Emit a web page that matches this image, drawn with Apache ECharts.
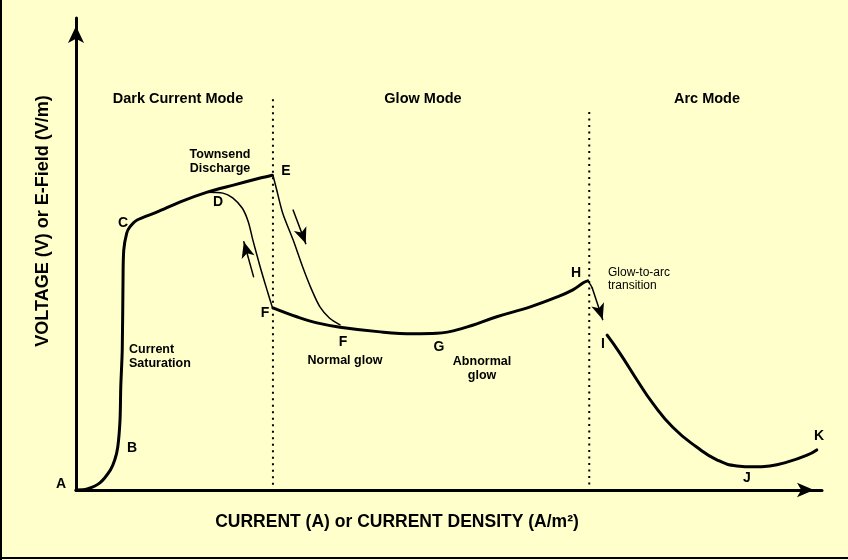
<!DOCTYPE html>
<html><head><meta charset="utf-8">
<script src="https://cdn.jsdelivr.net/npm/echarts@6/dist/echarts.min.js"></script>
<style>html,body{margin:0;padding:0;background:#FFFFCC}#c{width:848px;height:560px}</style>
</head><body><div id="c"></div>
<script>
// Data in arbitrary units: current (0-100) vs voltage (0-100)
const darkCurrentCurve = [[0,0],[1.5,0.2],[3.2,1.5],[4.6,4.2],[5.2,6.4],[5.6,9.1],[5.9,14.8],[6.0,21.8],[6.2,29.7],[6.3,43.9],[6.4,50.8],[6.8,54.4],[7.2,55.7],[8.2,57.2],[10.9,58.9],[13.9,61.0],[17.6,63.1],[21.1,64.6],[24.7,66.1],[26.3,66.7]];
const breakdownEF = [[26.4,66.7],[26.9,63.6],[27.7,58.7],[29.1,53.0],[30.4,47.2],[31.6,42.4],[32.7,38.8],[34.0,36.4],[35.4,35.0]];
const returnDF = [[17.6,63.1],[19.7,62.9],[21.0,61.9],[22.3,59.7],[23.1,56.8],[23.7,53.0],[24.7,47.2],[25.6,42.4],[26.3,38.8]];
const glowCurve = [[26.4,38.6],[29.6,36.7],[32.3,35.4],[35.4,34.5],[40.8,33.5],[45.2,33.1],[48.4,33.2],[51.9,34.3],[56.4,36.7],[60.9,38.8],[64.5,40.9],[66.6,42.4],[68.0,43.9],[68.6,44.3]];
const transitionStart = [[68.6,44.3],[69.0,43.4],[69.2,42.8]];
const arcCurve = [[71.2,32.8],[72.9,29.0],[75.2,23.3],[77.3,18.4],[80.0,13.3],[83.2,9.1],[85.9,6.4],[88.6,5.1],[90.8,4.9],[93.0,5.1],[95.3,5.9],[98.0,7.4],[99.3,8.5]];
const arrowDown = [[29.1,59.3],[30.8,52.2]];
const arrowUp = [[23.8,45.2],[22.5,52.6]];
const arrowArc = [[69.2,42.8],[70.6,36.1]];
const modeBoundary1 = [[26.4,82.8],[26.4,1.1]];
const modeBoundary2 = [[68.8,80.1],[68.8,1.1]];

const FONT = '"Liberation Sans", Arial, sans-serif';
const chart = echarts.init(document.getElementById('c'), null, {renderer:'canvas'});

function txt(x, y, text, size, weight, align, extra) {
  return Object.assign({
    type: 'text', x: x, y: y, z: 50,
    style: { text: text, fill: '#000', font: (weight||'bold') + ' ' + size + 'px ' + FONT,
      align: align || 'center', verticalAlign: 'middle', lineHeight: size + 1.5 }
  }, extra || {});
}

function curve(data, width, smooth) {
  return { type: 'line', data: data, showSymbol: false, symbol: 'none', smooth: smooth,
    lineStyle: { color: '#000', width: width, cap: 'round', join: 'round' }, silent: true, animation: false, z: 5 };
}
function dotted(data) {
  return { type: 'line', data: data, showSymbol: false, symbol: 'none',
    lineStyle: { color: '#000', width: 2, type: [2, 4.5] }, silent: true, animation: false, z: 3 };
}

const arrows = [arrowDown, arrowUp, arrowArc];

const baseOption = {
  backgroundColor: '#FFFFCC',
  animation: false,
  grid: { left: 76, right: 26, top: 18, bottom: 70 },
  xAxis: { type: 'value', min: 0, max: 100, splitLine: { show: false }, axisTick: { show: false }, axisLabel: { show: false },
    axisLine: { show: true, onZero: false, lineStyle: { color: '#000', width: 3 }, symbol: ['none', 'arrow'], symbolSize: [11, 17], symbolOffset: [0, -8] } },
  yAxis: { type: 'value', min: 0, max: 100, splitLine: { show: false }, axisTick: { show: false }, axisLabel: { show: false },
    axisLine: { show: true, onZero: false, lineStyle: { color: '#000', width: 3 }, symbol: ['none', 'arrow'], symbolSize: [12, 17], symbolOffset: [0, -8] } },
  series: [
    dotted(modeBoundary1), dotted(modeBoundary2),
    curve(darkCurrentCurve, 3, 0.3),
    curve(breakdownEF, 1.5, 0.3),
    curve(returnDF, 1.5, 0.3),
    curve(glowCurve, 3, 0.4),
    curve(transitionStart, 1.5, 0.3),
    curve(arcCurve, 3, 0.5)
  ].concat(arrows.map(a => curve(a, 1.5, false))),
  graphic: [
    { type: 'rect', shape: { x: 0, y: 0, width: 2, height: 560 }, style: { fill: '#000' }, z: 60 },
    { type: 'rect', shape: { x: 0, y: 557, width: 848, height: 2 }, style: { fill: '#000' }, z: 60 },
    txt(178, 99, 'Dark Current Mode', 14.5),
    txt(423, 99, 'Glow Mode', 14.5),
    txt(707, 99, 'Arc Mode', 14.5),
    txt(220, 162, 'Townsend\nDischarge', 12.5),
    txt(129, 357, 'Current\nSaturation', 12.5, 'bold', 'left'),
    txt(345, 361, 'Normal glow', 12.5),
    txt(482, 369, 'Abnormal\nglow', 12.5),
    txt(608, 279, 'Glow-to-arc\ntransition', 12, 'normal', 'left'),
    txt(61, 484, 'A', 14), txt(132, 448, 'B', 14), txt(123, 223, 'C', 14), txt(218, 202, 'D', 14),
    txt(286, 171, 'E', 14), txt(265, 313, 'F', 14), txt(343, 342, 'F', 14), txt(439, 347, 'G', 14),
    txt(576, 273, 'H', 14), txt(603, 344, 'I', 14), txt(747, 478, 'J', 14), txt(819, 436, 'K', 14),
    txt(397, 522, 'CURRENT (A) or CURRENT DENSITY (A/m²)', 17.5),
    txt(43.5, 221, 'VOLTAGE (V) or E-Field (V/m)', 18, 'bold', 'center', { rotation: Math.PI / 2 })
  ]
};
chart.setOption(baseOption);

// Arrowheads: rotate to the on-screen direction of each arrow shaft
const heads = arrows.map(a => {
  const p0 = chart.convertToPixel({ gridIndex: 0 }, a[0]);
  const p1 = chart.convertToPixel({ gridIndex: 0 }, a[1]);
  const dx = p1[0] - p0[0], dy = p1[1] - p0[1];
  const len = Math.hypot(dx, dy);
  const rot = Math.atan2(-dx / len, -dy / len) * 180 / Math.PI;
  return { value: a[1], symbolRotate: rot };
});
chart.setOption({
  series: baseOption.series.concat([{
    type: 'scatter', data: heads, symbol: 'arrow', symbolSize: [10, 16],
    itemStyle: { color: '#000', opacity: 1 }, silent: true, animation: false, z: 7
  }])
});
</script></body></html>
